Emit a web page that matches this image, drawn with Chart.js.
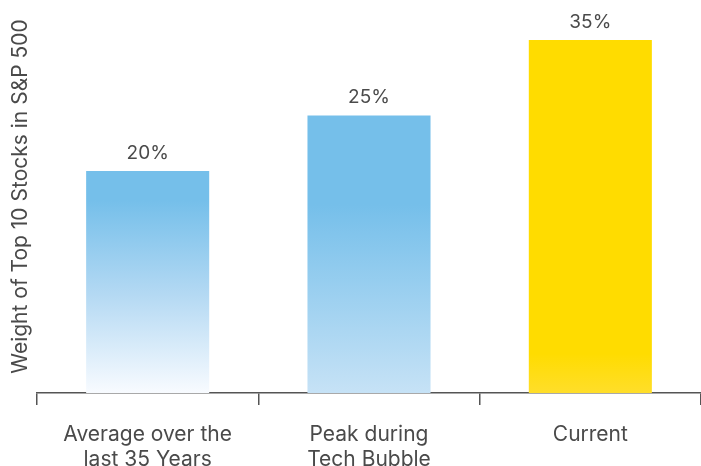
<!DOCTYPE html>
<html>
<head>
<meta charset="utf-8">
<script src="https://cdn.jsdelivr.net/npm/chart.js@4/dist/chart.umd.min.js"></script>
<style>
  html, body { margin: 0; padding: 0; background: #fff; }
  #wrap { width: 701px; height: 466px; }
</style>
</head>
<body>
<div id="wrap"><canvas id="chart"></canvas></div>
<script>
// Data (bar heights, labels as printed)
const categories = [['Average over the', 'last 35 Years'], ['Peak during', 'Tech Bubble'], 'Current'];
const barValues = [20, 25, 31.8];
const valueLabels = ['20%', '25%', '35%'];
const yTitle = 'Weight of Top 10 Stocks in S&P 500';

const textColor = '#4a4a4a';
const fontFamily = 'Inter, "Noto Sans", sans-serif';

// each bar has its own fade toward the baseline
function barFill(context) {
  const chart = context.chart;
  const area = chart.chartArea;
  if (!area) return '#76c0ea';
  const ctx = chart.ctx;
  const i = context.dataIndex;
  const g = ctx.createLinearGradient(0, area.top, 0, area.bottom);
  if (i === 0) {
    g.addColorStop(0, '#75bfea');
    g.addColorStop(0.51, '#75bfea');
    g.addColorStop(0.75, '#b4d9f3');
    g.addColorStop(1, '#f8fbff');
  } else if (i === 1) {
    g.addColorStop(0, '#75bfea');
    g.addColorStop(0.52, '#75bfea');
    g.addColorStop(1, '#c6e2f6');
  } else {
    g.addColorStop(0, '#ffdc00');
    g.addColorStop(0.9, '#ffdc00');
    g.addColorStop(1, '#ffde2a');
  }
  return g;
}

// draws the percentage text above each bar
const valueLabelPlugin = {
  id: 'valueLabels',
  afterDatasetsDraw(chart) {
    const ctx = chart.ctx;
    const meta = chart.getDatasetMeta(0);
    ctx.save();
    ctx.font = '19px ' + fontFamily;
    ctx.fillStyle = textColor;
    ctx.textAlign = 'center';
    ctx.textBaseline = 'middle';
    meta.data.forEach((bar, i) => {
      ctx.fillText(valueLabels[i], bar.x, bar.y - 18);
    });
    ctx.restore();
  }
};

new Chart(document.getElementById('chart'), {
  type: 'bar',
  data: {
    labels: categories,
    datasets: [{
      data: barValues,
      backgroundColor: barFill,
      borderWidth: 0,
      categoryPercentage: 1,
      barPercentage: 0.556
    }]
  },
  options: {
    responsive: true,
    maintainAspectRatio: false,
    animation: false,
    layout: { padding: 0 },
    plugins: {
      legend: { display: false },
      tooltip: { enabled: false }
    },
    scales: {
      x: {
        afterFit(scale) { scale.height = 73; },
        grid: {
          drawOnChartArea: false,
          drawTicks: true,
          tickLength: 12,
          color: '#555',
          lineWidth: 1.5
        },
        border: { color: '#555', width: 1.5 },
        ticks: {
          color: textColor,
          font: { family: fontFamily, size: 21, lineHeight: 1.15 },
          padding: 18,
          maxRotation: 0,
          autoSkip: false
        }
      },
      y: {
        min: 0,
        max: 35.4,
        afterFit(scale) { scale.width = 37; },
        grid: { display: false },
        border: { display: false },
        ticks: { display: false },
        title: {
          display: true,
          text: yTitle,
          color: textColor,
          font: { family: fontFamily, size: 21 },
          padding: { top: 8, bottom: 4 }
        }
      }
    }
  },
  plugins: [valueLabelPlugin]
});
</script>
</body>
</html>
